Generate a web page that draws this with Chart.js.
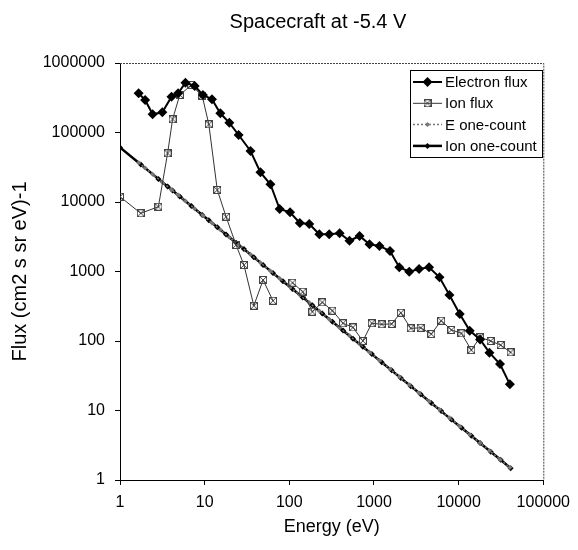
<!DOCTYPE html>
<html>
<head>
<meta charset="utf-8">
<script src="https://cdn.jsdelivr.net/npm/chart.js@4.4.1/dist/chart.umd.min.js"></script>
<style>
  html, body { margin: 0; padding: 0; background: #fff; }
  #wrap { width: 578px; height: 550px; }
</style>
</head>
<body>
<div id="wrap"><canvas id="flux-chart" width="578" height="550"></canvas></div>
<script>
// values
const electronEnergy = [1.66, 1.98, 2.43, 3.16, 4.06, 4.86, 5.93, 7.62, 9.55, 12.2, 15.3, 19.6, 25.2, 34.8, 45.6, 59.8, 76.8, 102, 133, 172, 226, 296, 393, 514, 676, 885, 1160, 1545, 1990, 2610, 3410, 4470, 5940, 7780, 10300, 13500, 17900, 23100, 30800, 40300];
const electronFlux = [366000, 294000, 183000, 195000, 327000, 366000, 521000, 467000, 347000, 300000, 189000, 138000, 92000, 54200, 26700, 18000, 7920, 7110, 4990, 4820, 3430, 3430, 3550, 2770, 3240, 2460, 2330, 1970, 1150, 993, 1086, 1150, 826, 459, 244, 141, 105, 68, 46.7, 23.8];
const eOneCount = [36700, 30800, 25100, 19300, 15000, 12600, 10300, 8010, 6390, 5000, 3990, 3110, 2420, 1750, 1340, 1020, 794, 598, 459, 355, 270, 206, 155, 119, 90.2, 68.9, 52.6, 39.5, 30.7, 23.4, 17.9, 13.6, 10.3, 7.84, 5.92, 4.52, 3.41, 2.64, 1.98, 1.51];

const ionEnergy = [1, 1.76, 2.84, 3.65, 4.18, 5.08, 6.97, 9.37, 11.2, 14.1, 17.9, 23.5, 29.1, 38.1, 49, 64.1, 84, 109, 144, 187, 245, 323, 431, 565, 739, 942, 1233, 1615, 2075, 2720, 3560, 4750, 6220, 8210, 10800, 14100, 17900, 23900, 31300, 41100];
const ionFlux = [11900, 6880, 8550, 50200, 155000, 347000, 482000, 335000, 131000, 14900, 6140, 2410, 1240, 322, 755, 380, null, 690, 512, 264, 360, 273, 180, 157, 100, 180, 174, 176, 255, 152, 155, 126, 196, 144, 129, 74, 113, 100, 87.5, 68.7];
const ionOneCount = [61000, 34700, 21500, 16700, 14600, 12000, 8750, 6510, 5450, 4330, 3410, 2600, 2100, 1600, 1245, 952, 726, 560, 424, 326, 249, 189, 142, 108, 82.5, 64.8, 49.5, 37.8, 29.4, 22.4, 17.1, 12.8, 9.8, 7.4, 5.65, 4.33, 3.41, 2.55, 1.95, 1.48];

const xTicks = [1, 10, 100, 1000, 10000, 100000];
const yTicks = [1, 10, 100, 1000, 10000, 100000, 1000000];

const FONT = "'Liberation Sans', Arial, sans-serif";

function pairs(xs, ys) {
  return xs.map((x, i) => ({ x: x, y: ys[i] }));
}

// square-with-cross marker for the ion flux
function boxCross(size, color) {
  const c = document.createElement('canvas');
  c.width = size; c.height = size;
  const g = c.getContext('2d');
  g.strokeStyle = color;
  g.lineWidth = 1;
  g.strokeRect(0.5, 0.5, size - 1, size - 1);
  g.beginPath();
  g.moveTo(1, 1); g.lineTo(size - 1, size - 1);
  g.moveTo(size - 1, 1); g.lineTo(1, size - 1);
  g.stroke();
  return c;
}
const ionMarker = boxCross(8, '#444');

const fluxData = {
  datasets: [{
    label: 'Electron flux',
    data: pairs(electronEnergy, electronFlux),
    showLine: true,
    borderColor: '#000',
    backgroundColor: '#000',
    borderWidth: 2,
    pointStyle: 'rectRot',
    pointRadius: 5,
    pointBorderWidth: 0
  }, {
    label: 'Ion flux',
    data: pairs(ionEnergy, ionFlux),
    showLine: true,
    spanGaps: false,
    borderColor: '#333',
    backgroundColor: '#fff',
    borderWidth: 1,
    pointStyle: ionMarker,
    pointRadius: 4
  }, {
    label: 'E one-count',
    data: pairs(electronEnergy, eOneCount),
    showLine: true,
    borderColor: '#777',
    backgroundColor: '#777',
    borderWidth: 1.5,
    borderDash: [2, 2],
    pointStyle: 'rectRot',
    pointRadius: 2.5,
    pointBorderWidth: 0
  }, {
    label: 'Ion one-count',
    data: pairs(ionEnergy, ionOneCount),
    showLine: true,
    borderColor: '#000',
    backgroundColor: '#000',
    borderWidth: 2.5,
    pointStyle: 'rectRot',
    pointRadius: 3,
    pointBorderWidth: 0
  }]
};

// title, plot frame and the boxed legend, drawn like the spreadsheet original
const decorations = {
  id: 'decorations',
  afterDraw(chart) {
    const ctx = chart.ctx;
    const a = chart.chartArea;
    ctx.save();

    // dotted frame on top and right of plot area
    ctx.strokeStyle = '#444';
    ctx.lineWidth = 1;
    ctx.setLineDash([2, 1]);
    ctx.beginPath();
    ctx.moveTo(a.left, a.top + 0.5);
    ctx.lineTo(a.right + 0.5, a.top + 0.5);
    ctx.lineTo(a.right + 0.5, a.bottom);
    ctx.stroke();
    ctx.setLineDash([]);

    // title
    ctx.fillStyle = '#000';
    ctx.font = '20px ' + FONT;
    ctx.textAlign = 'center';
    ctx.textBaseline = 'middle';
    ctx.fillText('Spacecraft at -5.4 V', 318, 22);

    // legend
    const bx = 410, by = 70, bw = 132, bh = 87;
    ctx.fillStyle = '#fff';
    ctx.fillRect(bx, by, bw, bh);
    ctx.strokeStyle = '#000';
    ctx.lineWidth = 1;
    ctx.strokeRect(bx + 0.5, by + 0.5, bw, bh);

    ctx.font = '15px ' + FONT;
    ctx.textAlign = 'left';
    chart.data.datasets.forEach((ds, i) => {
      const y = 82 + i * 21.3;
      ctx.strokeStyle = ds.borderColor;
      ctx.lineWidth = ds.borderWidth;
      ctx.setLineDash(ds.borderDash || []);
      ctx.beginPath();
      ctx.moveTo(413, y);
      ctx.lineTo(442, y);
      ctx.stroke();
      ctx.setLineDash([]);
      ctx.fillStyle = ds.backgroundColor;
      ctx.strokeStyle = ds.borderColor;
      ctx.lineWidth = 0;
      Chart.helpers.drawPoint(ctx, {
        pointStyle: ds.pointStyle,
        radius: ds.pointRadius,
        rotation: 0,
        borderWidth: 0
      }, 427.5, y);
      ctx.fillStyle = '#000';
      ctx.fillText(ds.label, 445, y + 1);
    });
    ctx.restore();
  }
};

const fluxConfig = {
  type: 'scatter',
  data: fluxData,
  options: {
    responsive: false,
    animation: false,
    layout: { padding: { left: 0, right: 31, top: 63, bottom: 0 } },
    plugins: {
      legend: { display: false },
      title: { display: false },
      tooltip: { enabled: false }
    },
    scales: {
      x: {
        type: 'logarithmic',
        min: 1,
        max: 100000,
        afterBuildTicks: (s) => { s.ticks = xTicks.map(v => ({ value: v })); },
        afterFit: (s) => { s.height = 70; },
        ticks: {
          color: '#000',
          font: { family: FONT, size: 16 },
          padding: 8,
          maxRotation: 0,
          autoSkip: false,
          callback: (v) => String(v)
        },
        grid: { drawOnChartArea: false, drawTicks: true, tickLength: 5, color: '#000' },
        border: { display: true, color: '#000', width: 1 },
        title: {
          display: true,
          text: 'Energy (eV)',
          color: '#000',
          font: { family: FONT, size: 18 },
          padding: { top: 0, bottom: 12 }
        }
      },
      y: {
        type: 'logarithmic',
        min: 1,
        max: 1000000,
        afterBuildTicks: (s) => { s.ticks = yTicks.map(v => ({ value: v })); },
        afterFit: (s) => { s.width = 120; },
        ticks: {
          color: '#000',
          font: { family: FONT, size: 16 },
          padding: 10,
          autoSkip: false,
          callback: (v) => String(v)
        },
        grid: { drawOnChartArea: false, drawTicks: true, tickLength: 5, color: '#000' },
        border: { display: true, color: '#000', width: 1 },
        title: {
          display: true,
          text: 'Flux (cm2 s sr eV)-1',
          color: '#000',
          font: { family: FONT, size: 20 },
          padding: { top: 8, bottom: 0 }
        }
      }
    }
  },
  plugins: [decorations]
};

var fluxChart = new Chart(
  document.getElementById('flux-chart'),
  fluxConfig
);
</script>
</body>
</html>
